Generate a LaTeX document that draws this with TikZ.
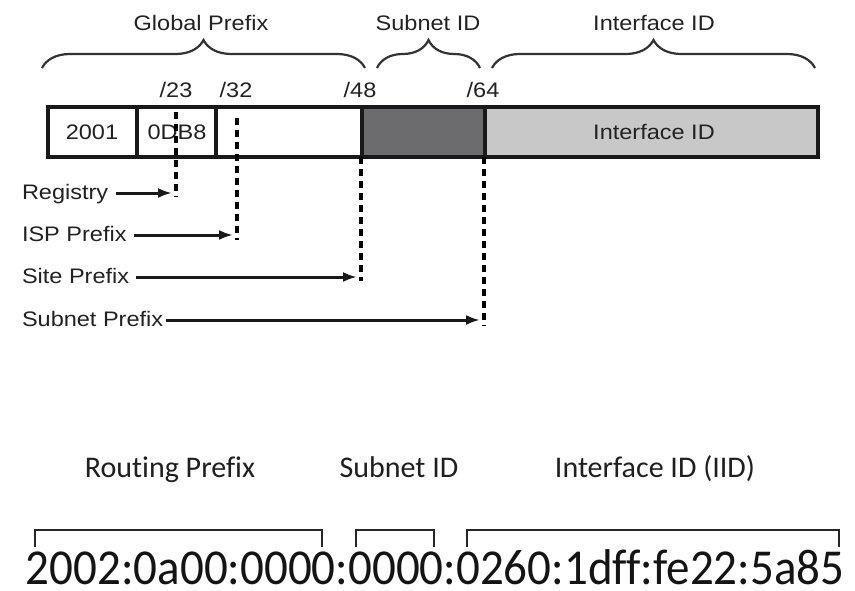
\documentclass[tikz,border=0pt]{standalone}
\usepackage{fontspec}
\usetikzlibrary{arrows.meta,decorations.pathreplacing}
\newfontfamily\hvfont[FakeStretch=1.12]{Liberation Sans}
\newfontfamily\calfont[Ligatures={NoCommon}]{Carlito}
\definecolor{txtgray}{HTML}{222222}
\definecolor{darkcell}{HTML}{6C6C6E}
\definecolor{lightcell}{HTML}{C8C8C8}
\tikzset{
  hv/.style={font=\fontsize{21}{25}\selectfont\hvfont, text=txtgray, inner sep=0pt, outer sep=0pt},
  cal/.style={font=\fontsize{30}{34}\selectfont\calfont, text=black!88, inner sep=0pt, outer sep=0pt},
  cell/.style={draw=black!90, line width=3.5pt, minimum height=50pt, inner sep=0pt, outer sep=0pt, anchor=north west},
  brc/.style={decorate, decoration={brace, amplitude=28pt}, line width=2.2pt, draw=black!80},
  dashln/.style={line width=4pt, dash pattern=on 7pt off 5pt, draw=black},
  arr/.style={line width=3pt, draw=black!90, -{Latex[length=14pt,width=10pt]}},
  bracketln/.style={line width=1.8pt, draw=black!85},
}
\begin{document}
\begin{tikzpicture}[x=1pt,y=-1pt]
\useasboundingbox (0,0) rectangle (855,590);
\fill[white] (0,0) rectangle (855,590);

% bar cells
\node[cell, fill=white, minimum width=89pt] (c1) at (48,107) {};
\node[cell, fill=white, minimum width=79pt] (c2) at (137,107) {};
\node[cell, fill=white, minimum width=146pt] (c3) at (216,107) {};
\node[cell, fill=darkcell, minimum width=123pt] (c4) at (362,107) {};
\node[cell, fill=lightcell, minimum width=333pt] (c5) at (485,107) {};
\node[hv, anchor=base] (t2001) at (92,139) {2001};
\node[hv, anchor=base] (t0db8) at (177,139) {0DB8};
\node[hv, anchor=base] (tiid) at (654,139) {Interface ID};

% prefix length labels
\node[hv, anchor=base] (p23) at (176,97) {/23};
\node[hv, anchor=base] (p32) at (236,97) {/32};
\node[hv, anchor=base] (p48) at (360,97) {/48};
\node[hv, anchor=base] (p64) at (483,97) {/64};

% braces
\coordinate (bg1) at (42,68);  \coordinate (bg2) at (365,68);
\coordinate (bs1) at (377,68); \coordinate (bs2) at (480,68);
\coordinate (bi1) at (492,68); \coordinate (bi2) at (815,68);
\draw[brc] (bg1) -- (bg2);
\draw[brc] (bs1) -- (bs2);
\draw[brc] (bi1) -- (bi2);
\node[hv, anchor=base] (lgp) at (201,30) {Global Prefix};
\node[hv, anchor=base] (lsid) at (428,30) {Subnet ID};
\node[hv, anchor=base] (liid) at (654,30) {Interface ID};

% dashed lines
\coordinate (d23a) at (176,112); \coordinate (d23b) at (176,197);
\coordinate (d32a) at (237,118); \coordinate (d32b) at (237,240);
\coordinate (d48a) at (361,157); \coordinate (d48b) at (361,281);
\coordinate (d64a) at (484,157); \coordinate (d64b) at (484,326);
\draw[dashln] (d23a) -- (d23b);
\draw[dashln] (d32a) -- (d32b);
\draw[dashln] (d48a) -- (d48b);
\draw[dashln] (d64a) -- (d64b);

% arrows
\node[hv, anchor=base west] (reg) at (22,199) {Registry};
\node[hv, anchor=base west] (isp) at (22,241) {ISP Prefix};
\node[hv, anchor=base west] (site) at (22,283) {Site Prefix};
\node[hv, anchor=base west] (snp) at (22,326) {Subnet Prefix};
\coordinate (a1) at (172,193);
\coordinate (a2) at (233,235);
\coordinate (a3) at (357,277);
\coordinate (a4) at (480,320);
\draw[arr] ([xshift=8pt]reg.east |- a1) -- (a1);
\draw[arr] ([xshift=7pt]isp.east |- a2) -- (a2);
\draw[arr] ([xshift=7pt]site.east |- a3) -- (a3);
\draw[arr] ([xshift=3pt]snp.east |- a4) -- (a4);

% bottom section
\node[cal, anchor=base] (rp) at (170,477) {Routing Prefix};
\node[cal, anchor=base] (sid) at (399,477) {Subnet ID};
\node[cal, anchor=base] (iid) at (655,477) {Interface ID (IID)};
\draw[bracketln] (35,547) -- (35,530) -- (322,530) -- (322,547);
\draw[bracketln] (356,547) -- (356,530) -- (434,530) -- (434,547);
\draw[bracketln] (467,547) -- (467,530) -- (839,530) -- (839,547);
\node[anchor=base, inner sep=0pt, text=black!92, font=\fontsize{47}{50}\selectfont\calfont] (addr) at (435,584) {\scalebox{1}[1.07]{2002:0a00:0000:0000:0260:1dff:fe22:5a85}};
\end{tikzpicture}
\end{document}
